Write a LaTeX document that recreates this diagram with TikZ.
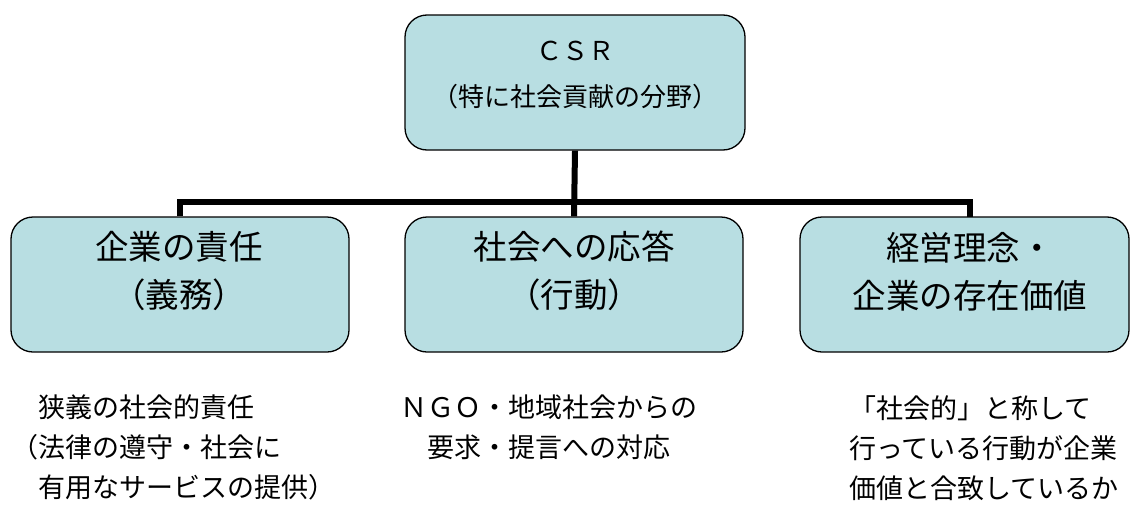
\documentclass[tikz,border=0pt]{standalone}
\usepackage{fontspec}
\newfontfamily\jp{Noto Sans CJK JP}
\definecolor{boxfill}{RGB}{184,222,226}
\begin{document}
\begin{tikzpicture}[x=1pt,y=-1pt,
  box/.style={draw=black, line width=1.3pt, fill=boxfill, rounded corners=22pt, inner sep=0pt},
  conn/.style={line width=6pt},
  boxtext/.style={font=\jp\fontsize{33.5}{48}\selectfont, align=center, inner sep=0pt},
  csrtext/.style={font=\jp\fontsize{26}{46}\selectfont, align=center, inner sep=0pt},
  desc/.style={font=\jp\fontsize{27}{40}\selectfont, align=left, anchor=north west, inner sep=0pt}]
\useasboundingbox (0,0) rectangle (1131,506);
\clip (0,0) rectangle (1131,506);
% boxes
\node[box, minimum width=340pt, minimum height=135pt] (csr) at (575,82.5) {};
\node[box, minimum width=338pt, minimum height=135pt] (left) at (180,284.5) {};
\node[box, minimum width=338pt, minimum height=135pt] (mid) at (574,284.5) {};
\node[box, minimum width=329pt, minimum height=135pt] (right) at (964.5,284.5) {};
% box texts
\node[csrtext] (csrt) at (575,75) {ＣＳＲ\\（特に社会貢献の分野）};
\node[boxtext] (leftt) at (179,271) {企業の責任\\（義務）};
\node[boxtext] (midt) at (574,271) {社会への応答\\（行動）};
\node[boxtext] (rightt) at (970,272) {経営理念・\\企業の存在価値};
% connectors
\coordinate (bar) at (0,202);
\draw[conn] (csr.south) -- (mid.north);
\draw[conn] (left.north) -- (left.north |- bar) -- (bar -| 970,0) -- (970,217);
% descriptions
\node[desc] (d1) at (11,395) {　狭義の社会的責任\\（法律の遵守・社会に\\　有用なサービスの提供）};
\node[desc] (d2) at (400,395) {ＮＧＯ・地域社会からの\\　要求・提言への対応};
\node[desc] (d3) at (849,395) {「社会的」と称して\\行っている行動が企業\\価値と合致しているか};
\end{tikzpicture}
\end{document}
